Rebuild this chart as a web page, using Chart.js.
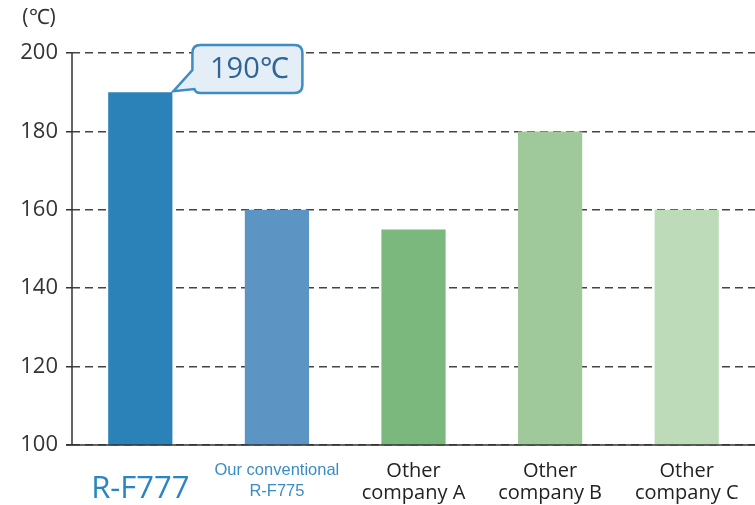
<!DOCTYPE html>
<html>
<head>
<meta charset="utf-8">
<script src="https://cdn.jsdelivr.net/npm/chart.js@4"></script>
<style>
    html, body { margin: 0; padding: 0; background: #fff; }
    #wrap { width: 755px; height: 505px; }
</style>
</head>
<body>
<div id="wrap"><canvas id="chart"></canvas></div>
<script>
// Heat resistance comparison

const categories = [
    ['R-F777'],
    ['Our conventional', 'R-F775'],
    ['Other', 'company A'],
    ['Other', 'company B'],
    ['Other', 'company C'],
];
const temps = [190, 160, 155, 180, 160];
const barColors = ['#2a82b8', '#5c94c4', '#7bb87e', '#9fc99b', '#bddab9'];
const labelColors = ['#2a86c2', '#3a8cc8', '#222222', '#222222', '#222222'];
const yTicks = [100, 120, 140, 160, 180, 200];
const unitLabel = '(℃)';
const calloutText = '190℃';

const labelFonts = [
    { family: "'Open Sans', sans-serif", size: 31, lineHeight: 1.9 },
    { family: "'Liberation Sans Narrow', 'Liberation Sans', sans-serif", size: 16.5, lineHeight: 1.27 },
    { family: "'Open Sans', sans-serif", size: 20, lineHeight: 1.1 },
    { family: "'Open Sans', sans-serif", size: 20, lineHeight: 1.1 },
    { family: "'Open Sans', sans-serif", size: 20, lineHeight: 1.1 },
];

const extras = {
    id: 'extras',
    afterDraw(chart) {
        const ctx = chart.ctx;
        const y = chart.scales.y;
        const area = chart.chartArea;

        // axis lines
        ctx.save();
        ctx.strokeStyle = '#333';
        ctx.lineWidth = 1.5;
        ctx.beginPath();
        ctx.moveTo(area.left, area.top);
        ctx.lineTo(area.left, area.bottom);
        ctx.moveTo(area.left - 6, area.bottom);
        ctx.lineTo(area.right, area.bottom);
        ctx.stroke();

        // unit label
        ctx.fillStyle = '#333';
        ctx.font = "21px 'Open Sans', sans-serif";
        ctx.textAlign = 'center';
        ctx.textBaseline = 'middle';
        ctx.fillText(unitLabel, 39, 18);

        // callout for the first bar
        const bar = chart.getDatasetMeta(0).data[0];
        const tipX = bar.x + bar.width / 2 + 1;
        const tipY = y.getPixelForValue(temps[0]) - 1;
        const bx = tipX + 19, by = y.getPixelForValue(200) - 8, bw = 110, bh = 48, r = 8;
        ctx.beginPath();
        ctx.moveTo(bx + r, by);
        ctx.lineTo(bx + bw - r, by);
        ctx.quadraticCurveTo(bx + bw, by, bx + bw, by + r);
        ctx.lineTo(bx + bw, by + bh - r);
        ctx.quadraticCurveTo(bx + bw, by + bh, bx + bw - r, by + bh);
        ctx.lineTo(bx + 8, by + bh);
        ctx.quadraticCurveTo(bx + 3, by + bh, bx + 2, by + bh - 4);
        ctx.lineTo(tipX, tipY);
        ctx.lineTo(bx, by + 25);
        ctx.lineTo(bx, by + r);
        ctx.quadraticCurveTo(bx, by, bx + r, by);
        ctx.closePath();
        ctx.fillStyle = '#e4eef7';
        ctx.fill();
        ctx.strokeStyle = '#3d8cc4';
        ctx.lineWidth = 2.5;
        ctx.stroke();

        ctx.fillStyle = '#2f6596';
        ctx.font = "29px 'Open Sans', sans-serif";
        ctx.fillText(calloutText, bx + bw / 2 + 2, by + bh / 2 + 1);
        ctx.restore();
    },
};

new Chart(document.getElementById('chart'), {
    type: 'bar',
    data: {
        labels: categories,
        datasets: [{
            data: temps,
            backgroundColor: barColors,
            categoryPercentage: 1,
            barPercentage: 0.47,
        }],
    },
    options: {
        responsive: true,
        maintainAspectRatio: false,
        animation: false,
        layout: { padding: { top: 53, right: 0, left: 0, bottom: 0 } },
        plugins: {
            legend: { display: false },
            tooltip: { enabled: false },
        },
        scales: {
            x: {
                grid: { display: false, drawTicks: false },
                border: { display: false },
                ticks: {
                    padding: 15,
                    autoSkip: false,
                    maxRotation: 0,
                    minRotation: 0,
                    color: (c) => labelColors[c.index],
                    font: (c) => labelFonts[c.index],
                },
                afterFit(scale) { scale.height = 60; },
            },
            y: {
                min: 100,
                max: 200,
                afterBuildTicks(scale) { scale.ticks = yTicks.map(v => ({ value: v })); },
                grid: {
                    color: '#444',
                    lineWidth: 1.5,
                    tickLength: 6,
                    tickColor: '#333',
                    tickBorderDash: [],
                },
                border: { display: false, dash: [8, 5] },
                ticks: {
                    padding: 8,
                    color: '#333',
                    font: { family: "'Open Sans', sans-serif", size: 22 },
                },
                afterFit(scale) { scale.width = 72; },
            },
        },
    },
    plugins: [extras],
});
</script>
</body>
</html>
